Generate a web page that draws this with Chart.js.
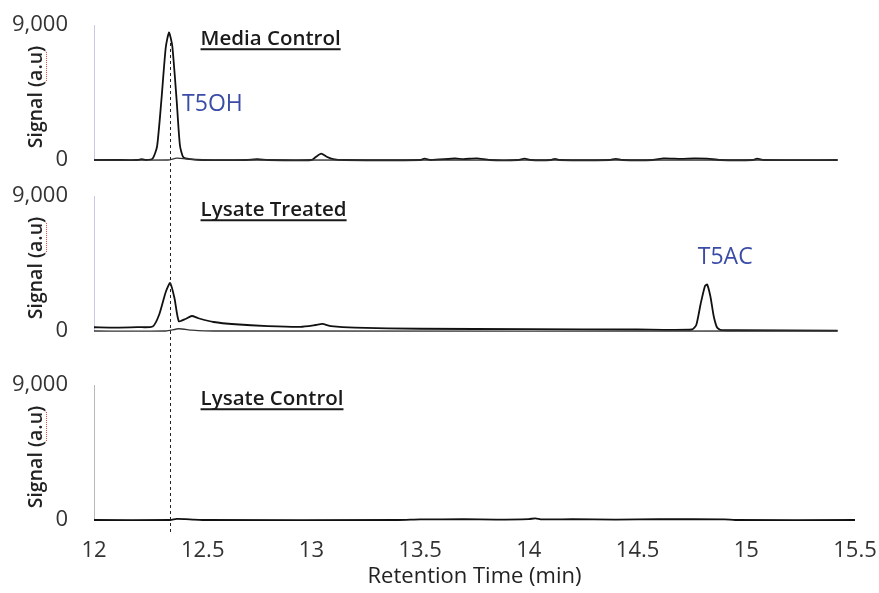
<!DOCTYPE html>
<html>
<head>
<meta charset="utf-8">
<script src="https://cdn.jsdelivr.net/npm/chart.js@4.4.1/dist/chart.umd.min.js"></script>
<style>
  html, body { margin: 0; padding: 0; background: #fff; }
  #wrap { width: 879px; height: 593px; }
</style>
</head>
<body>
<div id="wrap"><canvas id="chromChart"></canvas></div>
<script>
// Media Control (main trace + second overlaid trace)
const mediaTime = [12.00, 12.10, 12.20, 12.22, 12.24, 12.27, 12.29, 12.31, 12.33, 12.345, 12.36, 12.38, 12.395, 12.41, 12.44, 12.50, 12.70, 12.75, 12.80, 13.00, 13.02, 13.045, 13.07, 13.10, 13.15, 13.50, 13.52, 13.55, 13.66, 13.70, 13.76, 13.82, 13.95, 13.98, 14.01, 14.10, 14.12, 14.14, 14.37, 14.40, 14.43, 14.57, 14.62, 14.70, 14.76, 14.82, 14.88, 15.03, 15.05, 15.08, 15.42];
const mediaSignal = [0, 0, 0, 60, 0, 100, 900, 4000, 7500, 8500, 7600, 4000, 1000, 200, 60, 0, 0, 60, 0, 0, 200, 420, 220, 60, 0, 0, 90, 0, 100, 60, 110, 0, 0, 90, 0, 0, 80, 0, 0, 80, 0, 0, 110, 80, 110, 90, 0, 0, 90, 0, 0];
const mediaTime2 = [12.00, 12.34, 12.38, 12.42, 12.50, 15.42];
const mediaSignal2 = [0, 0, 120, 80, 0, 0];

// Lysate Treated
const treatedTime = [12.00, 12.10, 12.20, 12.27, 12.30, 12.33, 12.35, 12.37, 12.39, 12.42, 12.45, 12.48, 12.55, 12.65, 12.80, 12.95, 13.02, 13.05, 13.09, 13.20, 13.50, 14.00, 14.50, 14.75, 14.77, 14.79, 14.81, 14.82, 14.835, 14.85, 14.865, 14.88, 14.95, 15.42];
const treatedSignal = [250, 230, 260, 300, 1100, 2600, 3200, 2200, 650, 800, 1000, 850, 600, 450, 330, 280, 400, 470, 330, 220, 150, 120, 100, 100, 400, 1800, 3000, 3100, 2300, 1000, 250, 80, 50, 30];
const treatedTime2 = [12.00, 12.33, 12.39, 12.45, 12.55, 15.42];
const treatedSignal2 = [0, 0, 150, 60, 0, 0];

// Lysate Control
const controlTime = [12.00, 12.35, 12.38, 12.42, 12.46, 12.50, 13.40, 13.50, 13.70, 13.85, 14.00, 14.03, 14.06, 14.20, 14.40, 14.60, 14.90, 14.95, 15.50];
const controlSignal = [0, 0, 80, 60, 20, 0, 0, 40, 50, 30, 60, 110, 40, 50, 30, 50, 40, 0, 0];

const yTickValues = [0, 9000];
const xTicks = [12, 12.5, 13, 13.5, 14, 14.5, 15, 15.5];
const peakTime = 12.35;

const panelTitles = [
  { axis: 'y1', text: 'Media Control' },
  { axis: 'y2', text: 'Lysate Treated' },
  { axis: 'y3', text: 'Lysate Control' }
];
const peakLabels = [
  { axis: 'y1', text: 'T5OH', x: 12.405, y: 3700 },
  { axis: 'y2', text: 'T5AC', x: 14.777, y: 4900 }
];

const FONT = '"Open Sans", Lato, sans-serif';

function toPoints(xs, ys) {
  return xs.map((x, i) => ({ x: x, y: ys[i] }));
}

function traceSet(xs, ys, axis, width, color) {
  return {
    data: toPoints(xs, ys),
    yAxisID: axis,
    borderColor: color,
    borderWidth: width,
    pointRadius: 0,
    tension: 0.2,
    fill: false
  };
}

// y axis for one panel: only 0 and 9,000 ticks, no grid
function panelAxis(min, max, weight) {
  return {
    type: 'linear',
    position: 'left',
    stack: 'panels',
    stackWeight: weight,
    min: min,
    max: max,
    grid: { display: false, drawTicks: false },
    border: { display: false },
    afterBuildTicks: scale => { scale.ticks = yTickValues.map(v => ({ value: v })); },
    afterFit: scale => {
      scale.width = 94;
      scale.paddingTop = 0;
      scale.paddingBottom = 0;
    },
    ticks: {
      padding: 26,
      color: '#333',
      font: { family: FONT, size: 22 },
      callback: v => v.toLocaleString('en-US')
    }
  };
}

// 注記・破線・軸タイトルなどを描くプラグイン
const overlayPlugin = {
  id: 'overlay',
  beforeDatasetsDraw(chart) {
    const ctx = chart.ctx;
    const x0 = chart.scales.x.left + 0.5;
    ['y1', 'y2', 'y3'].forEach((id, i) => {
      const s = chart.scales[id];
      ctx.save();
      ctx.strokeStyle = i < 2 ? '#c6c9df' : '#b8b8b8';
      ctx.lineWidth = 1;
      ctx.beginPath();
      ctx.moveTo(x0, s.getPixelForValue(9000));
      ctx.lineTo(x0, s.getPixelForValue(0));
      ctx.stroke();
      ctx.restore();
    });
  },
  afterDatasetsDraw(chart) {
    const ctx = chart.ctx;
    const xs = chart.scales.x;

    // dashed marker at the T5OH retention time
    const px = Math.round(xs.getPixelForValue(peakTime)) + 0.5;
    ctx.save();
    ctx.strokeStyle = '#222';
    ctx.lineWidth = 1;
    ctx.setLineDash([3, 3]);
    ctx.beginPath();
    ctx.moveTo(px, chart.scales.y1.getPixelForValue(7800));
    ctx.lineTo(px, chart.scales.y3.getPixelForValue(0) + 14);
    ctx.stroke();
    ctx.restore();

    // panel titles (underlined)
    panelTitles.forEach(t => {
      const s = chart.scales[t.axis];
      const tx = xs.getPixelForValue(12.49);
      const ty = s.getPixelForValue(7650);
      ctx.save();
      ctx.font = '600 20.5px ' + FONT;
      ctx.fillStyle = '#1a1a1a';
      ctx.textAlign = 'left';
      ctx.textBaseline = 'alphabetic';
      ctx.fillText(t.text, tx, ty);
      const w = ctx.measureText(t.text).width;
      ctx.fillRect(tx, ty + 3, w, 2);
      ctx.restore();
    });

    // peak labels
    peakLabels.forEach(l => {
      const s = chart.scales[l.axis];
      ctx.save();
      ctx.font = '23px ' + FONT;
      ctx.fillStyle = '#3a4ca6';
      ctx.textAlign = 'left';
      ctx.textBaseline = 'middle';
      ctx.fillText(l.text, xs.getPixelForValue(l.x), s.getPixelForValue(l.y));
      ctx.restore();
    });

    // y axis titles with the red spell-check underline under "a.u"
    ['y1', 'y2', 'y3'].forEach(id => {
      const s = chart.scales[id];
      const yc = s.getPixelForValue(4200);
      const txt = 'Signal (a.u)';
      ctx.save();
      ctx.translate(36, yc);
      ctx.rotate(-Math.PI / 2);
      ctx.font = '600 19.5px ' + FONT;
      ctx.fillStyle = '#222';
      ctx.textAlign = 'center';
      ctx.textBaseline = 'middle';
      ctx.fillText(txt, 0, 0);
      const w = ctx.measureText(txt).width;
      const a = -w / 2 + ctx.measureText('Signal (').width;
      const b = -w / 2 + ctx.measureText('Signal (a.u').width;
      ctx.strokeStyle = '#e0463a';
      ctx.lineWidth = 1;
      ctx.setLineDash([1, 1]);
      ctx.beginPath();
      ctx.moveTo(a, 10.5);
      ctx.lineTo(b, 10.5);
      ctx.stroke();
      ctx.restore();
    });
  }
};

const ctx = document.getElementById('chromChart').getContext('2d');
new Chart(ctx, {
  type: 'line',
  data: {
    datasets: [
      traceSet(mediaTime2, mediaSignal2, 'y1', 1.3, '#333'),
      traceSet(mediaTime, mediaSignal, 'y1', 1.8, '#111'),
      traceSet(treatedTime2, treatedSignal2, 'y2', 1.3, '#333'),
      traceSet(treatedTime, treatedSignal, 'y2', 1.8, '#111'),
      traceSet(controlTime, controlSignal, 'y3', 1.8, '#111')
    ]
  },
  options: {
    responsive: true,
    maintainAspectRatio: false,
    animation: false,
    layout: { padding: { top: 20, left: 0, right: 24, bottom: 0 } },
    plugins: {
      legend: { display: false },
      tooltip: { enabled: false }
    },
    scales: {
      x: {
        type: 'linear',
        min: 12,
        max: 15.5,
        grid: { display: false, drawTicks: false },
        border: { display: false },
        afterBuildTicks: scale => { scale.ticks = xTicks.map(v => ({ value: v })); },
        afterFit: scale => {
          scale.height = 71;
          scale.paddingLeft = 0;
          scale.paddingRight = 0;
        },
        ticks: {
          padding: 16,
          maxRotation: 0,
          color: '#333',
          font: { family: FONT, size: 22 },
          callback: v => String(v)
        },
        title: {
          display: true,
          text: 'Retention Time (min)',
          color: '#222',
          font: { family: FONT, size: 22 },
          padding: { top: 0, bottom: 3 }
        }
      },
      // stacked panels: last listed axis is placed on top
      y3: panelAxis(-133, 10800, 164),
      y2: panelAxis(-1800, 10200, 180),
      y1: panelAxis(-1200, 9333, 158)
    }
  },
  plugins: [overlayPlugin]
});
</script>
</body>
</html>
